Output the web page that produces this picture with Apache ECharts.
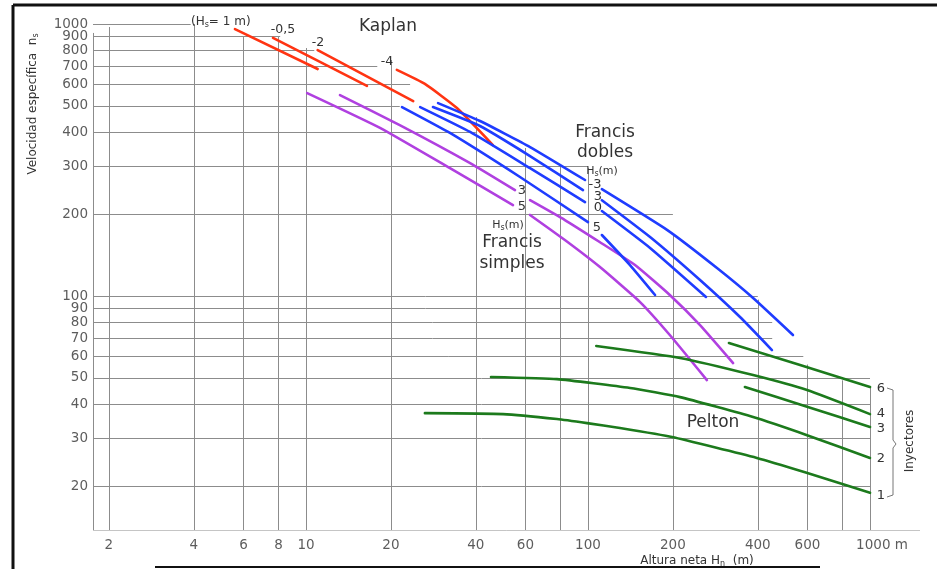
<!DOCTYPE html>
<html><head><meta charset="utf-8">
<script src="https://cdn.jsdelivr.net/npm/echarts@6/dist/echarts.min.js"></script>
<style>html,body{margin:0;padding:0;background:#fff}#c{width:937px;height:569px}</style>
</head><body><div id="c"></div>
<script>
// ---- axes ----
const xMin = 1.757, xMax = 1504;
const yMin = 13.8, yMax = 1000;
const xTicks = [2, 4, 6, 8, 10, 20, 40, 60, 100, 200, 400, 600, 1000];
const xTickLabels = ['2', '4', '6', '8', '10', '20', '40', '60', '100', '200', '400', '600', '1000 m'];
const yTicks = [20, 30, 40, 50, 60, 70, 80, 90, 100, 200, 300, 400, 500, 600, 700, 800, 900, 1000];

// vertical grid lines: [x value, top y value]
const vGrid = [[2, 975], [4, 1000], [6, 896], [8, 896], [10, 816], [20, 737], [40, 455], [60, 350], [80, 303], [100, 296], [200, 168], [400, 97], [600, 56], [800, 49], [1000, 46]];
// horizontal grid lines: [y value, right end x value]
const hGrid = [[1000, 3.9], [900, 8.1], [800, 10.7], [700, 17.9], [600, 23.4], [500, 21.5], [400, 40], [300, 100], [200, 200], [100, 400], [90, 400], [80, 450], [70, 450], [60, 580], [50, 1000], [40, 1000], [30, 1000], [20, 1000]];
const yAxisTop = 927;

// ---- Kaplan (red) ----
const kaplan1 = [[5.6, 958], [11.0, 683]];
const kaplan05 = [[7.64, 889], [16.45, 592]];
const kaplan2 = [[11.0, 802], [24.0, 521]];
const kaplan4 = [[21.0, 678], [26.4, 602], [34.3, 491], [46.0, 359]];

// ---- Francis simples (purple) ----
const fsimple3 = [[13.2, 548], [21.5, 425], [38.2, 308], [55.1, 245], null, [62.3, 225], [82.8, 190.3], [110, 158], [146.8, 130], [195, 100.9], [249.6, 78.2], [327, 56.7]];
const fsimple5 = [[10.1, 557], [18.3, 415], [32.4, 295], [54.2, 216], null, [62.3, 198.6], [82.8, 160.6], [110, 128], [153, 95], [195, 71.9], [264, 49.1]];

// ---- Francis dobles (blue) ----
const fdoble_m3 = [[29.4, 512], [41.4, 440], [62.3, 353], [97.6, 267], null, [112, 247], [190.6, 175], [286.7, 126.7], [385, 98.3], [533, 71.9]];
const fdoble3 = [[28.2, 495], [41.4, 421.7], [62.3, 327], [96, 245], null, [112, 225], [166, 164.8], [249.6, 114.5], [346, 83.7], [449, 63.3]];
const fdoble0 = [[25.4, 495], [38.2, 401], [62.3, 295], [97.6, 221.6], null, [112, 205.3], [166, 150.2], [262, 99.2]];
const fdoble5 = [[21.9, 495], [32.4, 397.5], [57.4, 273.8], [100, 187], null, [112, 167.6], [140.9, 130], [172.9, 100.9]];

// ---- Pelton (green) ----
const pelton6 = [[316, 67.2], [565, 55.8], [1000, 46.3]];
const pelton4 = [[107, 65.5], [212, 59.2], [385, 51.2], [598, 45.1], [1000, 36.8]];
const pelton3 = [[360, 46.3], [598, 39.2], [1000, 33.0]];
const pelton2 = [[45.3, 50.4], [77.6, 49.5], [141, 45.9], [212, 42.5], [385, 35.9], [598, 30.8], [1000, 25.4]];
const pelton1 = [[26.4, 37.1], [50, 36.8], [77.6, 35.3], [99.2, 34.1], [129.8, 32.7], [198.6, 30.3], [397, 25.4], [588, 22.5], [1000, 18.9]];

const RED = '#ff3412', PURPLE = '#b040e0', BLUE = '#1f3cff', GREEN = '#1c7a1c';
const GRIDC = '#8c8c8c', TXT = '#333333';
const FONT = 'DejaVu Sans';

function segs(arr) {
  const out = []; let cur = [];
  arr.forEach(p => { if (p === null) { if (cur.length) out.push(cur); cur = []; } else cur.push(p); });
  if (cur.length) out.push(cur);
  return out;
}
const curves = [
  [kaplan1, RED], [kaplan05, RED], [kaplan2, RED], [kaplan4, RED],
  [fsimple3, PURPLE], [fsimple5, PURPLE],
  [fdoble_m3, BLUE], [fdoble3, BLUE], [fdoble0, BLUE], [fdoble5, BLUE],
  [pelton6, GREEN], [pelton4, GREEN], [pelton3, GREEN], [pelton2, GREEN], [pelton1, GREEN]
];
const series = [];
const gridLines = [];
vGrid.forEach(([x, top]) => gridLines.push({ coords: [[x, yMin], [x, top]] }));
hGrid.forEach(([y, right]) => gridLines.push({ coords: [[xMin, y], [right, y]] }));
gridLines.push({ coords: [[xMin, yMin], [xMin, yAxisTop]] });
gridLines.push({ coords: [[xMin, yMin], [xMax, yMin]] });
series.push({ type: 'lines', coordinateSystem: 'cartesian2d', silent: true, z: 1,
  lineStyle: { color: GRIDC, width: 1, opacity: 1 }, data: gridLines });

curves.forEach(([arr, col]) => {
  segs(arr).forEach(s => series.push({
    type: 'line', data: s, showSymbol: false, smooth: 0.15, silent: true, z: 5,
    lineStyle: { color: col, width: 2.6, cap: 'round', join: 'round' }
  }));
});
series.push({ type: 'scatter', symbolSize: 0, silent: true, clip: false,
  data: xTicks.map((v, i) => ({ value: [v, yMin], label: { formatter: xTickLabels[i],
    offset: i === xTicks.length - 1 ? [12, 0] : [0, 0] } })),
  label: { show: true, position: 'bottom', distance: 8, color: TXT, fontSize: 13.5, fontFamily: FONT } });
series.push({ type: 'scatter', symbolSize: 0, silent: true, clip: false,
  data: yTicks.map(v => ({ value: [xMin, v], label: { formatter: String(v) } })),
  label: { show: true, position: 'left', distance: 5, color: TXT, fontSize: 13.5, fontFamily: FONT } });

function txt(x, y, text, size) {
  return { type: 'text', x: x, y: y, silent: true, z: 20,
    style: { text: text, fill: TXT, font: size + 'px "' + FONT + '"', align: 'center', verticalAlign: 'middle' } };
}
const sub = { s: { fontSize: 8, verticalAlign: 'bottom', fill: TXT, padding: [6, 0, 0, 0], fontFamily: FONT } };
const graphics = [
  // frame
  { type: 'line', shape: { x1: 13, y1: 5, x2: 937, y2: 5 }, style: { stroke: '#111', lineWidth: 3 }, z: 30 },
  { type: 'line', shape: { x1: 13, y1: 5, x2: 13, y2: 569 }, style: { stroke: '#111', lineWidth: 3 }, z: 30 },
  { type: 'line', shape: { x1: 155, y1: 567, x2: 820, y2: 567 }, style: { stroke: '#111', lineWidth: 2 }, z: 30 },
  txt(388, 27, 'Kaplan', 17),
  { type: 'text', x: 191, y: 22, z: 20, silent: true, style: { text: '(H{s|s}= 1 m)', rich: sub, fill: TXT, font: '12px "' + FONT + '"', align: 'left', verticalAlign: 'middle' } },
  txt(283, 30, '-0,5', 12.5), txt(318, 43, '-2', 12.5), txt(387, 62, '-4', 12.5),
  txt(605, 133, 'Francis', 17), txt(605, 153, 'dobles', 17),
  { type: 'text', x: 602, y: 171, z: 20, silent: true, style: { text: 'H{s|s}(m)', rich: sub, fill: TXT, font: '11px "' + FONT + '"', align: 'center', verticalAlign: 'middle' } },
  txt(595, 185, '-3', 13), txt(598, 197, '3', 13), txt(598, 208, '0', 13), txt(597, 228, '5', 13),
  txt(522, 191, '3', 13), txt(522, 207, '5', 13),
  { type: 'text', x: 508, y: 225, z: 20, silent: true, style: { text: 'H{s|s}(m)', rich: sub, fill: TXT, font: '11px "' + FONT + '"', align: 'center', verticalAlign: 'middle' } },
  txt(512, 243, 'Francis', 17), txt(512, 264, 'simples', 17),
  txt(713, 423, 'Pelton', 17),
  txt(881, 389, '6', 13), txt(881, 414, '4', 13), txt(881, 429, '3', 13), txt(881, 459, '2', 13), txt(881, 496, '1', 13),
  { type: 'polyline', z: 20, silent: true, shape: { points: [[887, 388], [893, 390], [893, 440], [896, 444], [893, 448], [893, 495], [887, 497]] }, style: { stroke: '#777', lineWidth: 1, fill: null } },
  { type: 'text', x: 910, y: 441, rotation: Math.PI / 2, z: 20, silent: true, style: { text: 'Inyectores', fill: TXT, font: '12px "' + FONT + '"', align: 'center', verticalAlign: 'middle' } },
  { type: 'text', x: 33, y: 104, rotation: Math.PI / 2, z: 20, silent: true, style: { text: 'Velocidad específica  n{s|s}', rich: sub, fill: TXT, font: '12px "' + FONT + '"', align: 'center', verticalAlign: 'middle' } },
  { type: 'text', x: 697, y: 561, z: 20, silent: true, style: { text: 'Altura neta H{s|n}  (m)', rich: sub, fill: TXT, font: '12px "' + FONT + '"', align: 'center', verticalAlign: 'middle' } }
];

const chart = echarts.init(document.getElementById('c'), null, { renderer: 'canvas' });
chart.setOption({
  animation: false,
  backgroundColor: '#fff',
  grid: { left: 93, top: 24, width: 827, height: 506, containLabel: false },
  xAxis: { type: 'log', logBase: 10, min: xMin, max: xMax, axisLine: { show: false }, axisTick: { show: false }, axisLabel: { show: false }, splitLine: { show: false } },
  yAxis: { type: 'log', logBase: 10, min: yMin, max: yMax, axisLine: { show: false }, axisTick: { show: false }, axisLabel: { show: false }, splitLine: { show: false } },
  series: series,
  graphic: graphics
});
</script></body></html>
